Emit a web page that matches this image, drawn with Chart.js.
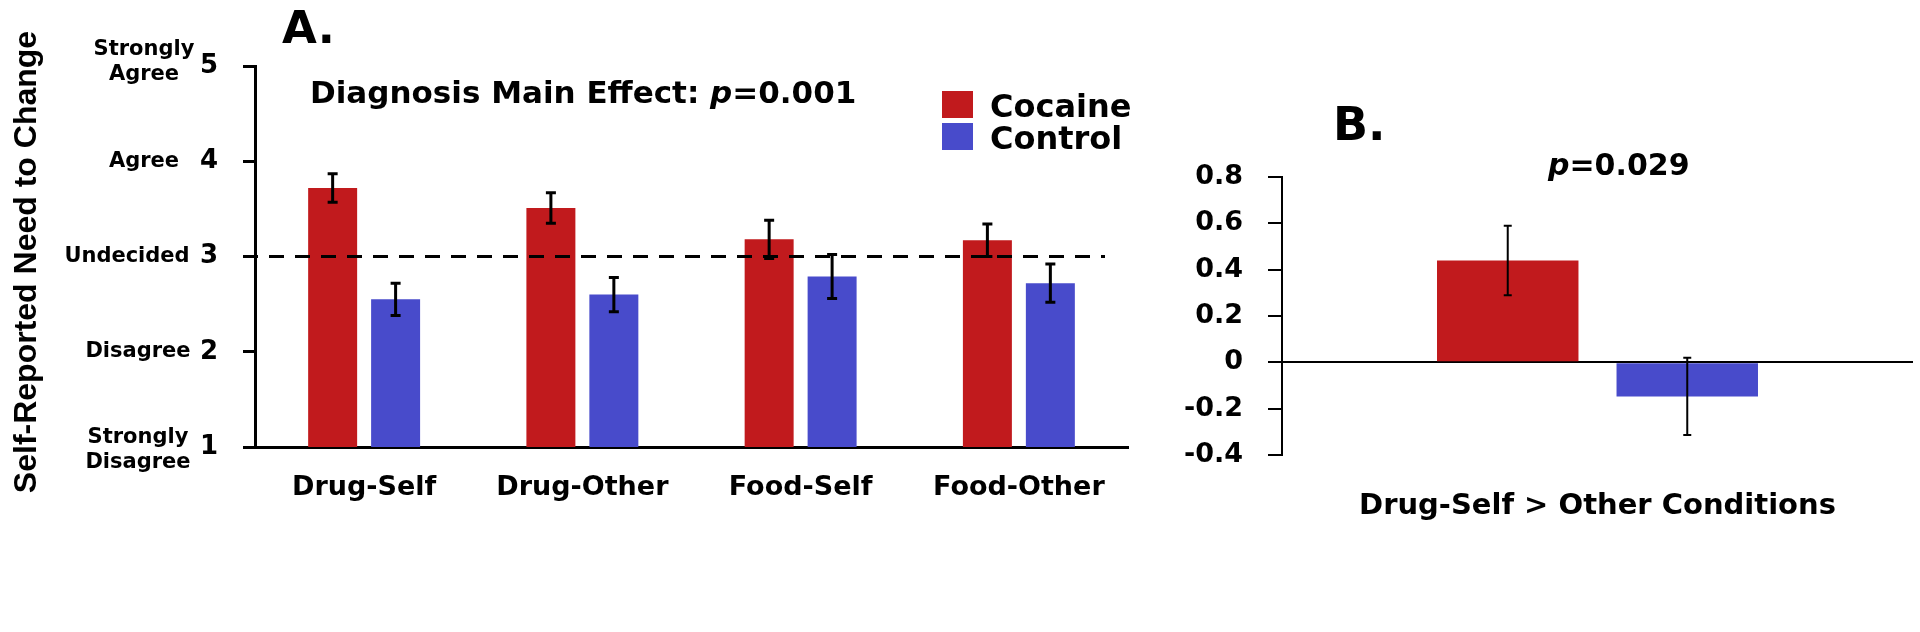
<!DOCTYPE html>
<html><head><meta charset="utf-8">
<script src="https://cdn.jsdelivr.net/npm/chart.js@4.4.1/dist/chart.umd.min.js"></script>
<style>
html,body{margin:0;padding:0;background:#fff;}
#wrap{position:relative;width:1920px;height:632px;background:#fff;}
canvas{position:absolute;left:0;top:0;}
</style></head><body>
<div id="wrap"><canvas id="cA" width="1920" height="632"></canvas><canvas id="cB" width="1920" height="632"></canvas></div>
<script>
// ---- data ----
const conditions = ['Drug-Self', 'Drug-Other', 'Food-Self', 'Food-Other'];
const seriesNames = ['Cocaine', 'Control'];
const seriesColors = ['#C11A1D', '#484BCB'];
const cocaineMeans = [3.72, 3.51, 3.18, 3.17];
const cocaineSE = [0.15, 0.16, 0.20, 0.17];
const controlMeans = [2.55, 2.60, 2.79, 2.72];
const controlSE = [0.17, 0.18, 0.23, 0.20];
const ratingTicks = [1, 2, 3, 4, 5];
const ratingLabels = [['Strongly', 'Disagree'], ['Disagree'], ['Undecided'], ['Agree'], ['Strongly', 'Agree']];
const undecidedLevel = 3;
const contrastCategory = ['Drug-Self > Other Conditions'];
const contrastCocaine = [0.44];
const contrastCocaineSE = [0.15];
const contrastControl = [-0.147];
const contrastControlSE = [0.167];
const contrastTicks = [-0.4, -0.2, 0, 0.2, 0.4, 0.6, 0.8];
const panelATitle = 'Self-Reported Need to Change';
const panelANote = [{t: 'Diagnosis Main Effect: '}, {t: 'p', it: true}, {t: '=0.001'}];
const panelBNote = [{t: 'p', it: true}, {t: '=0.029'}];

const FONT = 'DejaVu Sans';
Chart.defaults.font.family = FONT;
Chart.defaults.font.weight = 'bold';
Chart.defaults.color = '#000';

function drawRich(ctx, parts, x, y, size) {
  let cx = x;
  parts.forEach(p => {
    ctx.font = (p.it ? 'italic ' : '') + 'bold ' + size + 'px "' + FONT + '"';
    ctx.fillText(p.t, cx, y);
    cx += ctx.measureText(p.t).width;
  });
}

function errorBarPlugin(seLists, lw, cap) {
  return {
    id: 'errbars',
    afterDatasetsDraw(chart) {
      const ctx = chart.ctx, ys = chart.scales.y;
      ctx.save();
      ctx.strokeStyle = '#000';
      ctx.lineWidth = lw;
      chart.data.datasets.forEach((ds, i) => {
        const meta = chart.getDatasetMeta(i);
        meta.data.forEach((bar, j) => {
          const v = ds.data[j], e = seLists[i][j];
          const x = bar.x, yt = ys.getPixelForValue(v + e), yb = ys.getPixelForValue(v - e);
          ctx.beginPath();
          ctx.moveTo(x, yt); ctx.lineTo(x, yb);
          ctx.moveTo(x - cap, yt); ctx.lineTo(x + cap, yt);
          ctx.moveTo(x - cap, yb); ctx.lineTo(x + cap, yb);
          ctx.stroke();
        });
      });
      ctx.restore();
    }
  };
}

const refLinePlugin = {
  id: 'refline',
  beforeDatasetsDraw() {},
  afterDatasetsDraw(chart) {
    const ctx = chart.ctx, ys = chart.scales.y, a = chart.chartArea;
    const y = ys.getPixelForValue(undecidedLevel);
    ctx.save();
    ctx.strokeStyle = '#000';
    ctx.lineWidth = 3;
    ctx.setLineDash([15, 11]);
    ctx.beginPath();
    ctx.moveTo(a.left - 12, y);
    ctx.lineTo(a.right - 23, y);
    ctx.stroke();
    ctx.restore();
  }
};

const labelCenters = [138, 138, 127, 144, 144];
const annotA = {
  id: 'annotA',
  afterDraw(chart) {
    const ctx = chart.ctx, ys = chart.scales.y;
    ctx.save();
    ctx.fillStyle = '#000';
    // rotated axis title
    ctx.save();
    ctx.translate(27, 262);
    ctx.rotate(-Math.PI / 2);
    ctx.font = 'bold 32px "Liberation Sans"';
    ctx.textAlign = 'center';
    ctx.textBaseline = 'middle';
    ctx.fillText(panelATitle, 0, 0);
    ctx.restore();
    // rating labels
    ctx.font = 'bold 21px "' + FONT + '"';
    ctx.textAlign = 'center';
    ctx.textBaseline = 'middle';
    ratingTicks.forEach((v, i) => {
      const lines = ratingLabels[i];
      const yc = ys.getPixelForValue(v);
      const lh = 25;
      lines.forEach((ln, k) => {
        const dy = (k - (lines.length - 1) / 2) * lh + (lines.length > 1 ? (v === 5 ? -4 : 3) : 0);
        ctx.fillText(ln, labelCenters[i], yc + dy);
      });
    });
    // panel letter
    ctx.textAlign = 'left';
    ctx.textBaseline = 'alphabetic';
    ctx.font = 'bold 45px "' + FONT + '"';
    ctx.fillText('A.', 282, 43);
    // note
    drawRich(ctx, panelANote, 310, 103, 31);
    // legend
    const boxes = [[91, 27], [123, 27]];
    chart.data.datasets.forEach((ds, i) => {
      ctx.fillStyle = ds.backgroundColor;
      ctx.fillRect(942, boxes[i][0], 31, boxes[i][1]);
      ctx.fillStyle = '#000';
      ctx.font = 'bold 32px "' + FONT + '"';
      ctx.fillText(ds.label, 990, boxes[i][0] + boxes[i][1] - 1);
    });
    ctx.restore();
  }
};

const annotB = {
  id: 'annotB',
  afterDraw(chart) {
    const ctx = chart.ctx;
    ctx.save();
    ctx.fillStyle = '#000';
    ctx.textAlign = 'left';
    ctx.textBaseline = 'alphabetic';
    ctx.font = 'bold 46px "' + FONT + '"';
    ctx.fillText('B.', 1333, 140);
    drawRich(ctx, panelBNote, 1548, 175, 30);
    ctx.restore();
  }
};

new Chart(document.getElementById('cA'), {
  type: 'bar',
  data: {
    labels: conditions,
    datasets: [
      {label: seriesNames[0], data: cocaineMeans, backgroundColor: seriesColors[0], categoryPercentage: 0.577, barPercentage: 0.778},
      {label: seriesNames[1], data: controlMeans, backgroundColor: seriesColors[1], categoryPercentage: 0.577, barPercentage: 0.778}
    ]
  },
  options: {
    responsive: false, animation: false,
    layout: {padding: {left: 0, top: 66, right: 792, bottom: 0}},
    plugins: {legend: {display: false}, tooltip: {enabled: false}},
    scales: {
      x: {
        grid: {display: true, drawOnChartArea: false, drawTicks: false},
        border: {display: true, color: '#000', width: 3},
        ticks: {font: {size: 27, weight: 'bold'}, padding: 25, color: '#000'},
        afterFit: s => { s.height = 185; }
      },
      y: {
        min: 1, max: 5,
        afterBuildTicks: s => { s.ticks = ratingTicks.map(v => ({value: v})); },
        grid: {drawOnChartArea: false, drawTicks: true, tickLength: 12, tickWidth: 3, tickColor: '#000'},
        border: {display: true, color: '#000', width: 3},
        ticks: {font: {size: 26, weight: 'bold'}, padding: 25, color: '#000'},
        afterFit: s => { s.width = 255; }
      }
    }
  },
  plugins: [refLinePlugin, errorBarPlugin([cocaineSE, controlSE], 3, 5), annotA]
});

new Chart(document.getElementById('cB'), {
  type: 'bar',
  data: {
    labels: contrastCategory,
    datasets: [
      {label: seriesNames[0], data: contrastCocaine, backgroundColor: seriesColors[0], categoryPercentage: 0.569, barPercentage: 0.788},
      {label: seriesNames[1], data: contrastControl, backgroundColor: seriesColors[1], categoryPercentage: 0.569, barPercentage: 0.788}
    ]
  },
  options: {
    responsive: false, animation: false,
    layout: {padding: {left: 1142, top: 177, right: 7, bottom: 0}},
    plugins: {legend: {display: false}, tooltip: {enabled: false}},
    scales: {
      x: {
        grid: {display: false},
        border: {display: false},
        ticks: {font: {size: 29, weight: 'bold'}, padding: 26, color: '#000'},
        afterFit: s => { s.height = 177; }
      },
      y: {
        min: -0.4, max: 0.8,
        afterBuildTicks: s => { s.ticks = contrastTicks.map(v => ({value: v})); },
        grid: {
          drawOnChartArea: true, drawTicks: true, tickLength: 14, tickWidth: 2, tickColor: '#000',
          color: c => (c.tick && c.tick.value === 0) ? '#000' : 'rgba(0,0,0,0)', lineWidth: 2
        },
        border: {display: true, color: '#000', width: 2},
        ticks: {font: {size: 27, weight: 'bold'}, padding: 25, color: '#000',
          callback: v => String(Math.round(v * 10) / 10)},
        afterFit: s => { s.width = 140; }
      }
    }
  },
  plugins: [errorBarPlugin([contrastCocaineSE, contrastControlSE], 2, 4), annotB]
});
</script>
</body></html>
